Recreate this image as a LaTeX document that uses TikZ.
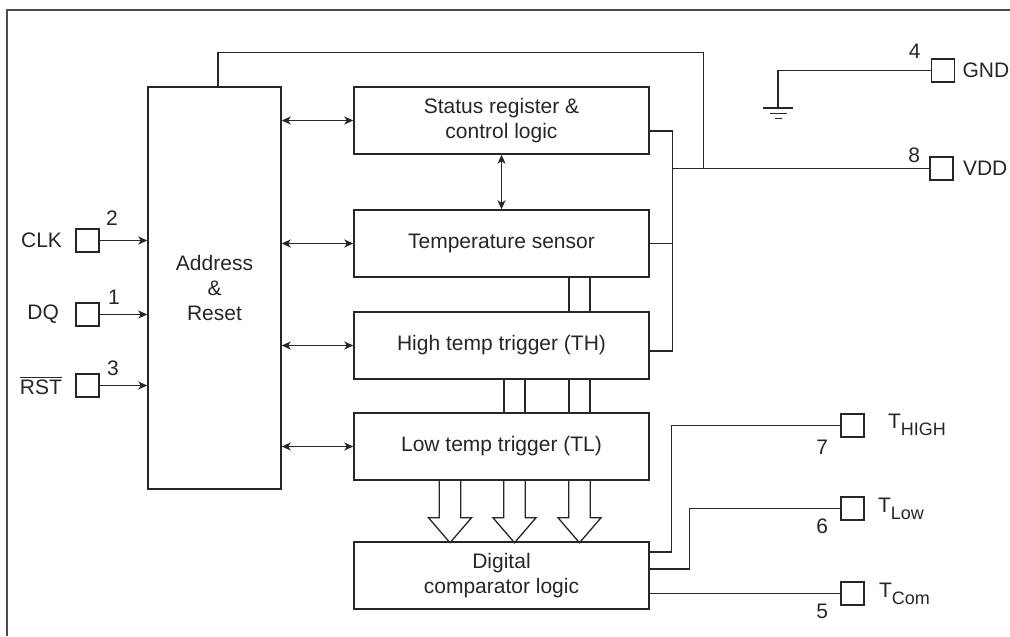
\documentclass[tikz,border=0pt]{standalone}
\usepackage{fontspec}
\setmainfont{Liberation Sans}
\usepackage{xcolor}
\usetikzlibrary{arrows.meta, positioning}
\definecolor{ink}{HTML}{262626}
\newcommand{\lowsub}[1]{\raisebox{-3.5pt}{\fontsize{9}{10}\selectfont #1}}

\begin{document}
\begin{tikzpicture}[
        x=0.5pt, y=-0.5pt,
        font=\fontsize{10.5}{12.5}\selectfont,
        every node/.style={text=ink},
        wire/.style={draw=ink, line width=0.65pt},
        box/.style={rectangle, draw=ink, line width=0.75pt, minimum width=147.5pt, minimum height=33.5pt,
                    align=center, inner sep=0pt},
        addrbox/.style={box, minimum width=66.5pt, minimum height=201pt},
        pinbox/.style={rectangle, draw=ink, line width=0.65pt, minimum size=11.5pt, inner sep=0pt},
        lbl/.style={inner sep=0pt},
        num/.style={inner sep=0pt, font=\fontsize{10.5}{12}\selectfont},
        biarrow/.style={wire, {Stealth[length=4.5pt,width=4pt,inset=1.3pt]}-{Stealth[length=4.5pt,width=4pt,inset=1.3pt]}},
        inarrow/.style={wire, -{Stealth[length=4.5pt,width=4pt,inset=1.3pt]}}
    ]
        \useasboundingbox (0,0) rectangle (1010,636);
        \draw[draw=gray!60!black, line width=1pt] (7,636) -- (7,10) -- (1010,10);

        \node[addrbox] (addr) at (214.5,288) {Address\\\&\\Reset};
        \node[box] (status) at (501.5,120.5) {Status register \&\\control logic};
        \node[box] (temp) at (501.5,243.5) {Temperature sensor};
        \node[box] (high) at (501.5,345.5) {High temp trigger (TH)};
        \node[box] (low) at (501.5,446.5) {Low temp trigger (TL)};
        \node[box] (comp) at (501.5,575.5) {Digital\\comparator logic};

        \node[pinbox] (clk) at (87.5,240.5) {};
        \node[pinbox] (dq) at (87.5,314.5) {};
        \node[pinbox] (rst) at (87.5,385.5) {};
        \node[pinbox] (gnd) at (943,70.5) {};
        \node[pinbox] (vdd) at (941.5,168.5) {};
        \node[pinbox] (thigh) at (852.5,425.5) {};
        \node[pinbox] (tlow) at (852.5,508.5) {};
        \node[pinbox] (tcom) at (852.5,593.5) {};

        \node[lbl, anchor=east, xshift=-6.5pt] (clklbl) at (clk.west) {CLK};
        \node[lbl, anchor=east, xshift=-8pt] (dqlbl) at (dq.west) {DQ};
        \node[lbl, anchor=east, xshift=-6.5pt] (rstlbl) at (rst.west) {$\overline{\mbox{RST}}$};
        \node[lbl, anchor=west, xshift=3.5pt] (gndlbl) at (gnd.east) {GND};
        \node[lbl, anchor=west, xshift=4.5pt] (vddlbl) at (vdd.east) {VDD};
        \node[lbl, anchor=base west, xshift=11.5pt, yshift=-1.25pt] (thighlbl) at (thigh.east) {T\lowsub{HIGH}};
        \node[lbl, anchor=base west, xshift=6.5pt, yshift=-1.75pt] (tlowlbl) at (tlow.east) {T\lowsub{Low}};
        \node[lbl, anchor=base west, xshift=7pt, yshift=-1.75pt] (tcomlbl) at (tcom.east) {T\lowsub{Com}};

        \node[num, anchor=south west, xshift=3pt, yshift=1pt] (n2) at (clk.north east) {2};
        \node[num, anchor=south west, xshift=4pt, yshift=-1.5pt] (n1) at (dq.north east) {1};
        \node[num, anchor=south west, xshift=3.5pt, yshift=-1.5pt] (n3) at (rst.north east) {3};
        \node[num, anchor=south east, xshift=-5pt, yshift=-0.5pt] (n4) at (gnd.north west) {4};
        \node[num, anchor=south east, xshift=-4.5pt, yshift=-3.5pt] (n8) at (vdd.north west) {8};
        \node[num, anchor=north east, xshift=-6pt, yshift=-1pt] (n7) at (thigh.south west) {7};
        \node[num, anchor=north east, xshift=-6pt, yshift=1pt] (n6) at (tlow.south west) {6};
        \node[num, anchor=north east, xshift=-6pt, yshift=1pt] (n5) at (tcom.south west) {5};

        \foreach \p in {clk,dq,rst}
            \draw[inarrow] (\p.east) -- (addr.west |- \p);
        \foreach \n in {status,temp,high,low}
            \draw[biarrow] (addr.east |- \n) -- (\n.west);
        \draw[biarrow] (status.south) -- (temp.north);

        \foreach \dx in {33.75,44.25}
            \draw[wire] ([xshift=\dx]temp.south) -- ([xshift=\dx]high.north);
        \foreach \dx in {1.25,11.75,33.75,44.25}
            \draw[wire] ([xshift=\dx]high.south) -- ([xshift=\dx]low.north);
        \foreach \dx in {-51.5,13,78}
            \draw[wire, shift={(low.south)}] (\dx-10.75,0) -- ++(0,37) -- ++(-10.75,0) -- (\dx,62)
                -- (\dx+21.5,37) -- ++(-10.75,0) -- (\dx+10.75,0);

        \draw[wire] ([yshift=-5.25pt]status.east) -- ++(23,0) coordinate (bus) |- ([yshift=-2.75pt]high.east);
        \draw[wire] (temp.east) -- (temp.east -| bus);
        \draw[wire] (bus |- vdd) -- (vdd.west);
        \draw[wire] ([xshift=1.75pt]addr.north) -- ++(0,-34) -| ([xshift=-113pt]vdd.west);

        \coordinate (gndc) at (778,108);
        \draw[wire] (gnd.west) -| (gndc);
        \draw[wire] ([xshift=-7.5pt]gndc) -- ([xshift=7.5pt]gndc)
            ([xshift=-4.25pt, yshift=-2.65pt]gndc) -- ([xshift=4.25pt, yshift=-2.65pt]gndc)
            ([xshift=-1.75pt, yshift=-5.15pt]gndc) -- ([xshift=1.75pt, yshift=-5.15pt]gndc);

        \draw[wire] ([yshift=11.75pt]comp.east) -- ++(22,0) |- (thigh.west);
        \draw[wire] ([yshift=3.25pt]comp.east) -- ++(40,0) |- (tlow.west);
        \draw[wire] (comp.east |- tcom) -- (tcom.west);
    \end{tikzpicture}
\end{document}
